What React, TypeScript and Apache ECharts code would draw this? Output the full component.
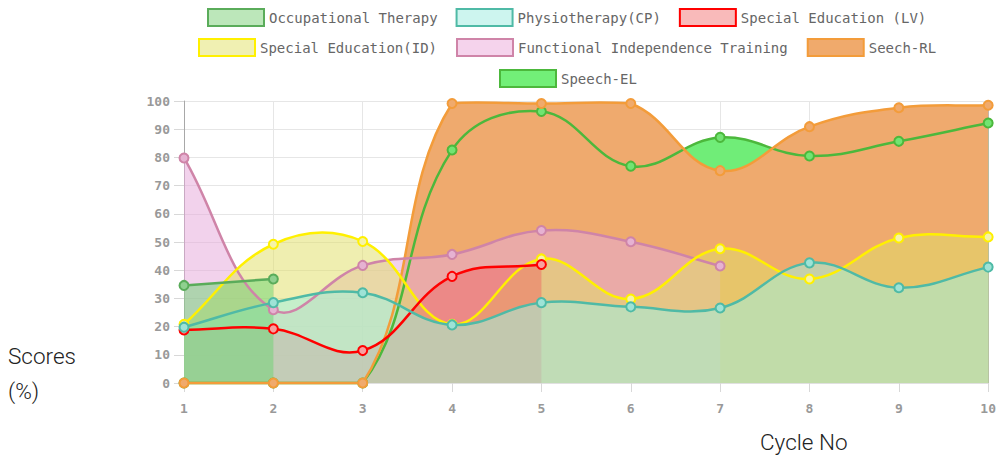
import React, { useEffect, useRef } from "react";
import * as echarts from "echarts";

const categories = ["1", "2", "3", "4", "5", "6", "7", "8", "9", "10"];
const seriesNames = [
  "Occupational Therapy",
  "Physiotherapy(CP)",
  "Special Education (LV)",
  "Special Education(ID)",
  "Functional Independence Training",
  "Seech-RL",
  "Speech-EL",
];
const otData = [34.6, 36.9, null, null, null, null, null, null, null, null];
const physioData = [19.8, 28.5, 32.0, 20.6, 28.5, 27.0, 26.6, 42.6, 33.8, 41.1];
const lvData = [18.8, 19.2, 11.5, 37.8, 42.0, null, null, null, null, null];
const idData = [20.8, 49.2, 50.2, 20.8, 44.0, 29.8, 47.6, 36.9, 51.4, 51.8];
const fitData = [79.8, 26.0, 41.7, 45.6, 54.1, 50.1, 41.5, null, null, null];
const rlData = [0, 0, 0, 99.1, 99.1, 99.1, 75.3, 90.9, 97.6, 98.5];
const elData = [0, 0, 0, 82.6, 96.3, 76.9, 87.1, 80.5, 85.7, 92.2];
const yTicks = { min: 0, max: 100, interval: 10 };

const styles = [
  { line: "#5aac5a", legendFill: "#bce7ba", area: "rgba(108,211,114,0.5)", dot: "#8fd08f" },
  { line: "#4fbaa6", legendFill: "#cdf5ef", area: "rgba(161,241,224,0.54)", dot: "#9ee3d6" },
  { line: "#ff0000", legendFill: "#f9baba", area: "rgba(240,98,98,0.45)", dot: "#f7a0a0" },
  { line: "#fff000", legendFill: "#f0f0b2", area: "rgba(225,223,104,0.52)", dot: "#f5f3a8" },
  { line: "#cf84a8", legendFill: "#f5d3ec", area: "rgba(230,170,219,0.53)", dot: "#e6b2d2" },
  { line: "#f39c3a", legendFill: "#f0aa6c", area: "rgba(239,170,110,1)", dot: "#f0aa6c" },
  { line: "#4cb83c", legendFill: "#72ef78", area: "rgba(112,237,120,1)", dot: "#72e472" },
];
const dataSets = [otData, physioData, lvData, idData, fitData, rlData, elData];
const legendRows = [
  { names: [0, 1, 2], left: 207, top: 8, gap: 18 },
  { names: [3, 4, 5], left: 198, top: 38, gap: 19 },
  { names: [6], left: 499, top: 69, gap: 17 },
];
const TENSION = 0.4;

type P = [number, number];

function splinePath(
  pts: (P | null)[],
  bounds: { x: number; y: number; width: number; height: number },
  asArea: boolean,
  baseY: number
): string {
  const runs: P[][] = [];
  let cur: P[] = [];
  pts.forEach((p) => {
    if (p) cur.push(p);
    else {
      if (cur.length) runs.push(cur);
      cur = [];
    }
  });
  if (cur.length) runs.push(cur);
  const clampX = (v: number) => Math.min(Math.max(v, bounds.x), bounds.x + bounds.width);
  const clampY = (v: number) => Math.min(Math.max(v, bounds.y), bounds.y + bounds.height);
  let d = "";
  runs.forEach((run) => {
    if (run.length < 2) return;
    const cps = run.map((c, k) => {
      const prev = run[k - 1] || c;
      const next = run[k + 1] || c;
      const d01 = Math.hypot(c[0] - prev[0], c[1] - prev[1]);
      const d12 = Math.hypot(next[0] - c[0], next[1] - c[1]);
      let s01 = d01 / (d01 + d12);
      let s12 = d12 / (d01 + d12);
      if (isNaN(s01)) s01 = 0;
      if (isNaN(s12)) s12 = 0;
      const fa = TENSION * s01;
      const fb = TENSION * s12;
      return {
        prev: [clampX(c[0] - fa * (next[0] - prev[0])), clampY(c[1] - fa * (next[1] - prev[1]))],
        next: [clampX(c[0] + fb * (next[0] - prev[0])), clampY(c[1] + fb * (next[1] - prev[1]))],
      };
    });
    d += `M${run[0][0]},${run[0][1]}`;
    for (let k = 1; k < run.length; k++) {
      const a = cps[k - 1].next;
      const b = cps[k].prev;
      d += ` C${a[0]},${a[1]} ${b[0]},${b[1]} ${run[k][0]},${run[k][1]}`;
    }
    if (asArea) {
      d += ` L${run[run.length - 1][0]},${baseY} L${run[0][0]},${baseY} Z`;
    }
  });
  return d;
}

export default function App() {
  const ref = useRef<HTMLDivElement>(null);
  useEffect(() => {
    document.body.style.margin = "0";
    if (!ref.current) return;
    const chart = echarts.init(ref.current, null, { renderer: "svg" });
    const drawOrder = [6, 5, 4, 3, 2, 1, 0];
    const toData = (vals: (number | null)[]) => vals.map((v, i) => [i, v == null ? "-" : v]);
    const coordsOf = (vals: (number | null)[], api: any): (P | null)[] =>
      vals.map((v, i) => (v == null ? null : (api.coord([i, v]) as P)));

    const areaSeries = drawOrder.map((i) => ({
      name: seriesNames[i],
      type: "custom",
      coordinateSystem: "cartesian2d",
      data: toData(dataSets[i]),
      silent: true,
      z: 2,
      renderItem: (params: any, api: any) => {
        if (params.dataIndex !== 0) return null;
        const pts = coordsOf(dataSets[i], api);
        const baseY = api.coord([0, 0])[1];
        return {
          type: "path",
          shape: { pathData: splinePath(pts, params.coordSys, true, baseY) },
          style: { fill: styles[i].area, stroke: "none" },
        };
      },
    }));
    const lineSeries = drawOrder.map((i) => ({
      name: seriesNames[i],
      type: "custom",
      coordinateSystem: "cartesian2d",
      data: toData(dataSets[i]),
      z: 3,
      renderItem: (params: any, api: any) => {
        const children: any[] = [];
        if (params.dataIndex === 0) {
          const pts = coordsOf(dataSets[i], api);
          children.push({
            type: "path",
            shape: { pathData: splinePath(pts, params.coordSys, false, 0) },
            style: { fill: "none", stroke: styles[i].line, lineWidth: 2.5 },
          });
        }
        const v = dataSets[i][params.dataIndex];
        if (v != null) {
          const c = api.coord([params.dataIndex, v]);
          children.push({
            type: "circle",
            shape: { cx: c[0], cy: c[1], r: 4.5 },
            style: { fill: styles[i].dot, stroke: styles[i].line, lineWidth: 2 },
          });
        }
        return { type: "group", children };
      },
    }));
    const legends = legendRows.map((row) => ({
      left: row.left,
      top: row.top,
      padding: 0,
      orient: "horizontal",
      itemWidth: 56,
      itemHeight: 17,
      itemGap: row.gap,
      icon: "rect",
      textStyle: { fontFamily: "DejaVu Sans Mono", fontSize: 14, color: "#666" },
      data: row.names.map((i) => ({
        name: seriesNames[i],
        icon: "rect",
        itemStyle: { color: styles[i].legendFill, borderColor: styles[i].line, borderWidth: 2 },
      })),
    }));
    const axisLabelStyle = {
      fontFamily: "DejaVu Sans Mono",
      fontSize: 13,
      fontWeight: "bold",
      color: "#999",
    };
    chart.setOption({
      animation: false,
      legend: legends,
      grid: { left: 184, right: 9, top: 101, bottom: 81, containLabel: false },
      xAxis: {
        type: "category",
        data: categories,
        boundaryGap: false,
        axisLine: { show: true, lineStyle: { color: "#e0e0e0" } },
        axisTick: { show: true, length: 9, lineStyle: { color: "#d8d8d8" } },
        axisLabel: { ...axisLabelStyle, margin: 19 },
        splitLine: { show: true, lineStyle: { color: "#e6e6e6" } },
      },
      yAxis: [
        {
          type: "value",
          ...yTicks,
          axisLine: { show: true, lineStyle: { color: "#a8a8a8" } },
          axisTick: { show: true, length: 10, lineStyle: { color: "#d8d8d8" } },
          axisLabel: { ...axisLabelStyle, margin: 14 },
          splitLine: { show: true, lineStyle: { color: "#e6e6e6" } },
        },
        {
          type: "value",
          ...yTicks,
          position: "right",
          axisLine: { show: true, lineStyle: { color: "#b8b8b8" } },
          axisTick: { show: false },
          axisLabel: { show: false },
          splitLine: { show: false },
        },
      ],
      graphic: [
        { type: "text", left: 8, top: 344, style: { text: "Scores", font: "300 22.5px Roboto", fill: "#222" } },
        { type: "text", left: 8, top: 379, style: { text: "(%)", font: "300 22.5px Roboto", fill: "#222" } },
        { type: "text", left: 760, top: 430, style: { text: "Cycle No", font: "300 22.5px Roboto", fill: "#222" } },
      ],
      series: [...areaSeries, ...lineSeries],
    });
    return () => chart.dispose();
  }, []);
  return <div ref={ref} style={{ width: 999, height: 464 }} />;
}
